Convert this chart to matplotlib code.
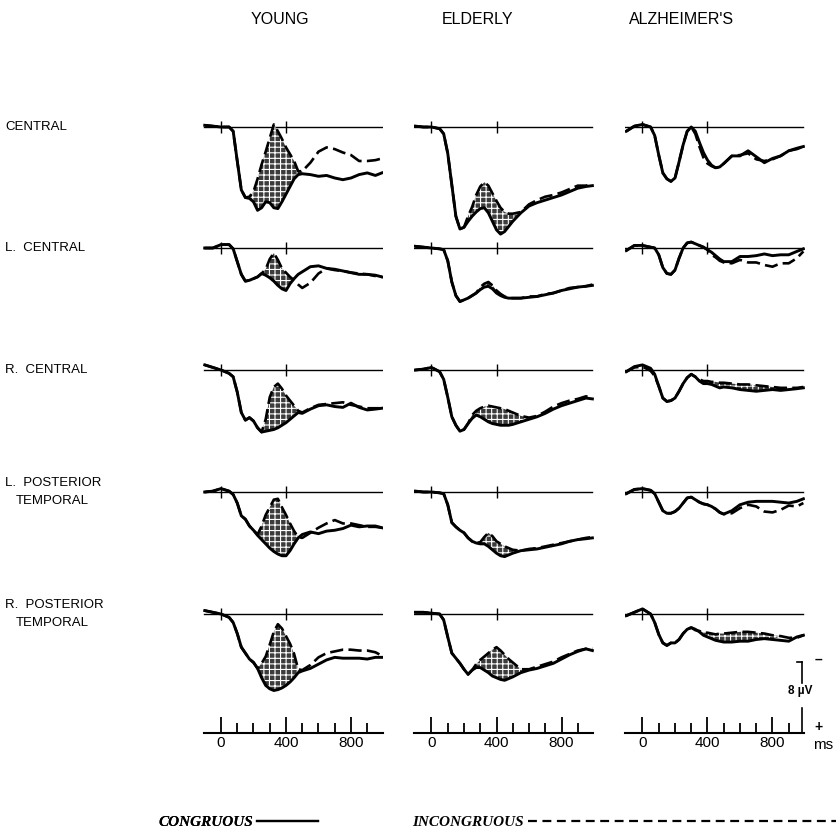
import numpy as np
import matplotlib
matplotlib.use("Agg")
import matplotlib.pyplot as plt
from matplotlib.lines import Line2D

plt.rcParams['hatch.linewidth'] = 0.8

W, H = 837, 834
SANS = ['Liberation Sans Narrow', 'Liberation Sans', 'DejaVu Sans']

# ---------------- data ----------------
TIME = [-100, -50, 0, 50, 75, 100, 125, 150, 175, 200, 225, 250, 275, 300, 325, 350,
        375, 400, 425, 450, 475, 500, 550, 600, 650, 700, 750, 800, 850, 900, 950, 990]

GROUPS = ["YOUNG", "ELDERLY", "ALZHEIMER'S"]
SITES = ["CENTRAL", "L.  CENTRAL", "R.  CENTRAL", "L.  POSTERIOR\nTEMPORAL", "R.  POSTERIOR\nTEMPORAL"]

# microvolts, positive values plotted downward
Y_C_CONG = [-0.2, -0.1, 0, 0, 0.5, 4.0, 7.4, 8.3, 8.4, 8.8, 9.8, 9.5, 8.8, 8.9, 9.5, 9.6,
            8.8, 7.9, 7.0, 6.1, 5.6, 5.5, 5.6, 5.8, 5.7, 6.0, 6.2, 6.0, 5.6, 5.4, 5.7, 5.4]
Y_C_INC = [-0.2, -0.1, 0, 0, 0.5, 4.0, 7.4, 8.3, 8.2, 7.6, 6.1, 4.4, 2.9, 1.3, -0.3, 0.5,
           1.4, 2.4, 3.2, 4.0, 5.2, 5.2, 4.2, 2.9, 2.4, 2.6, 3.0, 3.3, 4.0, 4.0, 3.9, 3.7]
Y_LC_CONG = [0, 0, -0.4, -0.4, 0.1, 1.6, 3.1, 3.9, 3.8, 3.6, 3.4, 3.0, 3.2, 3.5, 3.9, 4.4,
             4.8, 5.0, 4.2, 3.6, 3.1, 2.8, 2.2, 2.1, 2.4, 2.5, 2.7, 2.9, 3.1, 3.1, 3.2, 3.4]
Y_LC_INC = [0, 0, -0.4, -0.4, 0.1, 1.6, 3.1, 3.9, 3.8, 3.6, 3.4, 3.0, 2.5, 1.3, 0.6, 1.4,
            2.4, 2.9, 3.4, 3.8, 4.3, 4.7, 4.1, 3.0, 2.4, 2.6, 2.7, 2.9, 3.0, 3.1, 3.3, 3.4]
Y_RC_CONG = [-0.6, -0.3, 0, 0.4, 0.8, 2.6, 5.0, 5.9, 5.6, 6.0, 6.8, 7.3, 7.2, 7.1, 7.0, 6.8,
             6.5, 6.2, 5.8, 5.4, 5.0, 5.1, 4.6, 4.2, 4.1, 4.3, 4.4, 3.9, 4.4, 4.7, 4.6, 4.5]
Y_RC_INC = [-0.6, -0.3, 0, 0.4, 0.8, 2.6, 5.0, 5.9, 5.6, 6.0, 6.8, 7.3, 5.8, 3.2, 2.0, 1.6,
            2.2, 3.0, 3.6, 4.2, 4.8, 5.0, 4.5, 4.1, 4.0, 3.9, 3.8, 4.1, 4.3, 4.5, 4.5, 4.5]
Y_LP_CONG = [0, -0.1, -0.4, -0.1, 0.3, 1.3, 2.8, 3.2, 4.0, 4.5, 5.1, 5.6, 6.1, 6.6, 7.0, 7.3,
             7.5, 7.5, 6.9, 6.1, 5.4, 5.0, 4.7, 4.9, 4.6, 4.5, 4.3, 3.9, 4.1, 4.0, 4.0, 4.2]
Y_LP_INC = [0, -0.1, -0.4, -0.1, 0.3, 1.3, 2.8, 3.2, 4.0, 4.5, 5.0, 4.0, 2.7, 1.8, 0.9, 0.8,
            1.8, 2.7, 3.7, 4.6, 5.3, 5.4, 4.8, 4.2, 3.7, 3.3, 3.7, 3.7, 3.9, 4.1, 4.1, 4.2]
Y_RP_CONG = [-0.4, -0.2, 0, 0.4, 1.0, 2.3, 3.9, 4.6, 5.3, 5.7, 6.4, 7.5, 8.4, 8.8, 9.0, 8.9,
             8.7, 8.4, 8.0, 7.5, 6.9, 6.7, 6.4, 5.9, 5.4, 5.1, 5.2, 5.2, 5.2, 5.3, 5.1, 5.1]
Y_RP_INC = [-0.4, -0.2, 0, 0.4, 1.0, 2.3, 3.9, 4.6, 5.3, 5.7, 6.4, 5.8, 5.0, 3.6, 2.1, 1.2,
            1.7, 2.6, 3.5, 4.7, 6.5, 6.6, 6.0, 5.1, 4.6, 4.4, 4.2, 4.2, 4.3, 4.3, 4.5, 4.9]

E_C_CONG = [-0.1, 0, 0, 0.2, 0.8, 3.1, 6.8, 10.5, 12.0, 11.8, 11.1, 10.5, 10.0, 9.6, 9.5, 10.1,
            11.1, 12.1, 12.6, 12.3, 11.7, 11.1, 10.1, 9.3, 8.9, 8.6, 8.3, 8.0, 7.6, 7.2, 7.0, 6.9]
E_C_INC = [-0.1, 0, 0, 0.2, 0.8, 3.1, 6.8, 10.5, 12.0, 11.8, 10.5, 9.4, 8.0, 7.0, 6.5, 6.9,
           7.8, 8.7, 9.5, 10.0, 10.2, 10.2, 10.0, 9.1, 8.6, 8.2, 8.0, 7.7, 7.3, 6.9, 6.9, 6.7]
E_LC_CONG = [-0.2, -0.1, 0, 0.1, 0.2, 1.5, 4.0, 5.6, 6.3, 6.1, 5.9, 5.6, 5.3, 4.9, 4.6, 4.5,
             4.8, 5.3, 5.6, 5.8, 5.9, 5.9, 5.9, 5.8, 5.7, 5.5, 5.3, 5.0, 4.8, 4.6, 4.5, 4.4]
E_LC_INC = [-0.2, -0.1, 0, 0.1, 0.2, 1.5, 4.0, 5.6, 6.3, 6.1, 5.9, 5.6, 5.3, 4.6, 4.2, 4.0,
            4.4, 5.0, 5.4, 5.7, 5.9, 5.9, 5.9, 5.7, 5.7, 5.4, 5.3, 5.0, 4.7, 4.6, 4.5, 4.3]
E_RC_CONG = [0, -0.1, -0.3, 0.2, 1.1, 3.2, 5.5, 6.5, 7.2, 7.0, 6.3, 5.7, 5.3, 5.5, 5.8, 6.1,
             6.3, 6.4, 6.5, 6.5, 6.5, 6.4, 6.1, 5.8, 5.5, 5.1, 4.6, 4.2, 3.9, 3.6, 3.3, 3.4]
E_RC_INC = [0, -0.1, -0.3, 0.2, 1.1, 3.2, 5.5, 6.5, 7.2, 7.0, 6.3, 5.3, 4.8, 4.5, 4.3, 4.2,
            4.3, 4.4, 4.5, 4.6, 4.8, 5.0, 5.4, 5.6, 5.4, 4.9, 4.3, 3.9, 3.6, 3.4, 3.1, 3.2]
E_LP_CONG = [-0.1, 0, 0, 0.1, 0.2, 1.5, 3.6, 4.1, 4.5, 4.8, 5.4, 5.8, 6.0, 6.1, 6.1, 6.4,
             6.8, 7.2, 7.5, 7.6, 7.4, 7.2, 6.9, 6.8, 6.7, 6.5, 6.3, 6.1, 5.8, 5.6, 5.5, 5.4]
E_LP_INC = [-0.1, 0, 0, 0.1, 0.2, 1.5, 3.6, 4.1, 4.5, 4.8, 5.4, 5.8, 6.0, 5.9, 5.3, 4.8,
            5.2, 5.8, 6.1, 6.4, 6.6, 6.8, 6.9, 6.7, 6.6, 6.4, 6.2, 6.0, 5.8, 5.6, 5.4, 5.3]
E_RP_CONG = [-0.2, -0.2, -0.1, 0, 0.7, 2.7, 4.6, 5.2, 5.8, 6.5, 7.1, 6.6, 6.3, 6.3, 6.6, 6.9,
             7.3, 7.5, 7.7, 7.8, 7.6, 7.4, 6.9, 6.6, 6.4, 6.1, 5.8, 5.3, 4.8, 4.4, 4.1, 4.3]
E_RP_INC = [-0.2, -0.2, -0.1, 0, 0.7, 2.7, 4.6, 5.2, 5.8, 6.5, 7.1, 6.6, 5.9, 5.4, 5.0, 4.6,
            4.2, 3.9, 4.3, 4.8, 5.3, 5.7, 6.5, 6.5, 6.2, 5.9, 5.6, 5.1, 4.7, 4.3, 4.1, 4.1]

A_C_CONG = [0.5, -0.1, -0.3, 0, 1.0, 3.3, 5.4, 6.1, 6.4, 6.0, 4.1, 2.1, 0.5, 0, 0.5, 1.8,
            3.0, 3.9, 4.5, 4.8, 4.7, 4.3, 3.4, 3.4, 2.8, 3.5, 4.2, 3.7, 3.4, 2.8, 2.5, 2.3]
A_C_INC = [0.5, -0.1, -0.3, 0, 1.0, 3.3, 5.4, 6.1, 6.4, 6.0, 4.1, 2.1, 0.5, 0, 0.8, 2.3,
           3.6, 4.3, 4.6, 4.8, 4.7, 4.3, 3.4, 3.3, 3.1, 3.8, 4.0, 3.8, 3.4, 2.8, 2.6, 2.3]
A_LC_CONG = [0.3, -0.3, -0.3, -0.1, 0, 0.8, 2.3, 3.0, 3.1, 2.6, 1.2, 0, -0.6, -0.7, -0.5, -0.3,
             -0.1, 0.2, 0.5, 0.9, 1.3, 1.6, 1.6, 1.0, 1.0, 0.9, 0.7, 0.9, 0.8, 0.8, 0.4, 0.1]
A_LC_INC = [0.3, -0.3, -0.3, -0.1, 0, 0.8, 2.3, 3.0, 3.1, 2.6, 1.2, 0, -0.6, -0.7, -0.5, -0.3,
            -0.1, 0.2, 0.8, 1.1, 1.5, 1.7, 1.8, 1.4, 1.7, 1.7, 2.0, 2.2, 1.8, 1.8, 1.2, 0.4]
A_RC_CONG = [0.2, -0.4, -0.6, -0.2, 0.5, 1.9, 3.3, 3.7, 3.6, 3.3, 2.5, 1.6, 0.9, 0.5, 0.8, 1.3,
             1.6, 1.6, 1.7, 1.9, 2.1, 2.0, 2.1, 2.3, 2.4, 2.5, 2.4, 2.3, 2.4, 2.3, 2.2, 2.1]
A_RC_INC = [0.2, -0.3, -0.4, 0.1, 0.7, 1.9, 3.3, 3.7, 3.6, 3.3, 2.5, 1.6, 0.9, 0.5, 0.8, 1.1,
            1.3, 1.3, 1.4, 1.4, 1.5, 1.5, 1.6, 1.7, 1.7, 1.8, 1.9, 2.0, 2.1, 2.1, 2.1, 2.0]
A_LP_CONG = [0.2, -0.3, -0.4, -0.2, 0.2, 1.2, 2.2, 2.5, 2.5, 2.3, 1.9, 1.3, 0.7, 0.6, 0.9, 1.2,
             1.4, 1.5, 1.7, 2.0, 2.4, 2.6, 2.2, 1.5, 1.2, 1.1, 1.1, 1.1, 1.2, 1.3, 1.1, 0.8]
A_LP_INC = [0.2, -0.3, -0.4, -0.2, 0.2, 1.2, 2.2, 2.5, 2.5, 2.3, 1.9, 1.3, 0.7, 0.6, 0.9, 1.2,
            1.4, 1.5, 1.7, 2.0, 2.4, 2.6, 2.5, 1.9, 1.5, 1.7, 2.3, 2.4, 2.1, 1.6, 1.7, 1.3]
A_RP_CONG = [0.2, -0.2, -0.6, 0, 1.0, 2.4, 3.4, 3.7, 3.4, 3.4, 3.0, 2.3, 1.8, 1.6, 1.8, 2.1,
             2.5, 2.7, 2.9, 3.1, 3.2, 3.3, 3.3, 3.2, 3.2, 3.0, 2.9, 3.0, 3.1, 3.2, 2.7, 2.5]
A_RP_INC = [0.2, -0.2, -0.6, 0, 1.0, 2.4, 3.4, 3.7, 3.4, 3.4, 3.0, 2.3, 1.8, 1.6, 1.9, 2.0,
            2.2, 2.2, 2.3, 2.4, 2.3, 2.3, 2.2, 2.1, 2.1, 2.2, 2.3, 2.5, 2.6, 2.8, 2.8, 2.5]

CONG = [[Y_C_CONG, Y_LC_CONG, Y_RC_CONG, Y_LP_CONG, Y_RP_CONG],
        [E_C_CONG, E_LC_CONG, E_RC_CONG, E_LP_CONG, E_RP_CONG],
        [A_C_CONG, A_LC_CONG, A_RC_CONG, A_LP_CONG, A_RP_CONG]]
INC = [[Y_C_INC, Y_LC_INC, Y_RC_INC, Y_LP_INC, Y_RP_INC],
       [E_C_INC, E_LC_INC, E_RC_INC, E_LP_INC, E_RP_INC],
       [A_C_INC, A_LC_INC, A_RC_INC, A_LP_INC, A_RP_INC]]

# time windows (ms) where the N400 difference is shaded
SHADE = [[(175, 500), (250, 450), (250, 500), (225, 475), (225, 475)],
         [(200, 550), (275, 450), (250, 600), (300, 550), (250, 550)],
         [None, None, (300, 850), None, (300, 800)]]

TICKS_MAJOR = [0, 400, 800]
TICKS_MINOR = [100, 200, 300, 500, 600, 700, 900]
CAL_UV = 8

# ---------------- layout ----------------
fig = plt.figure(figsize=(W / 100, H / 100), dpi=100)
fig.patch.set_facecolor('white')

PX_PER_MS = 0.1625
PX_PER_UV = 8.5
XLIM = (-110, 1000)
YLIM = (13, -3)
col_onset = [221, 431.5, 642.5]
row_base = [127, 248, 370, 492, 614]
col_title_x = [280, 478, 682]


def add_px_axes(left, top, width, height):
    return fig.add_axes([left / W, 1 - (top + height) / H, width / W, height / H])


t = np.array(TIME, dtype=float)
panel_w = (XLIM[1] - XLIM[0]) * PX_PER_MS
panel_h = (YLIM[0] - YLIM[1]) * PX_PER_UV

for c in range(3):
    left = col_onset[c] + XLIM[0] * PX_PER_MS
    for r in range(5):
        top = row_base[r] + YLIM[1] * PX_PER_UV
        ax = add_px_axes(left, top, panel_w, panel_h)
        ax.set_xlim(*XLIM)
        ax.set_ylim(*YLIM)
        ax.axis('off')
        cong = np.array(CONG[c][r], dtype=float)
        inc = np.array(INC[c][r], dtype=float)
        ax.plot([-105, 990], [0, 0], color='black', lw=1.0, zorder=1)
        ax.vlines([0, 400], -0.75, 0.75, color='black', lw=1.0, zorder=1)
        win = SHADE[c][r]
        if win is not None:
            mask = (t >= win[0]) & (t <= win[1]) & (inc <= cong)
            ax.fill_between(t, inc, cong, where=mask, interpolate=True,
                            facecolor='#3c3c3c', edgecolor='white', hatch='+++',
                            linewidth=0, zorder=2)
        ax.plot(t, inc, color='black', lw=1.9, dashes=(5, 2), zorder=3,
                solid_joinstyle='round', dash_capstyle='butt')
        ax.plot(t, cong, color='black', lw=2.1, zorder=4, solid_joinstyle='round')

        if c == 2 and r == 4:
            # calibration bar (8 uV) at right of the last panel
            xb = 981
            ax.plot([951, xb], [5.6, 5.6], color='black', lw=1.2, clip_on=False)
            ax.plot([xb, xb], [5.6, 5.6 + 2.5], color='black', lw=1.2, clip_on=False)
            ax.plot([xb, xb], [5.6 + CAL_UV - 2.6, 5.6 + CAL_UV + 0.3], color='black',
                    lw=1.2, clip_on=False)
            ax.text(968, 5.6 + CAL_UV / 2 - 0.5, "8 \u00b5V", ha='center', va='center',
                    fontsize=8.5, fontweight='bold', family=SANS, clip_on=False)
            ax.text(1085, 5.4, "\u2013", ha='center', va='center', fontsize=10,
                    fontweight='bold', family=SANS, clip_on=False)
            ax.text(1082, 5.6 + CAL_UV - 0.3, "+", ha='center', va='center', fontsize=10,
                    fontweight='bold', family=SANS, clip_on=False)

    # time scale axis under each column
    tax = add_px_axes(left, 700, panel_w, 33)
    tax.set_xlim(*XLIM)
    tax.set_ylim(0, 1)
    tax.patch.set_visible(False)
    for s in ['top', 'left', 'right']:
        tax.spines[s].set_visible(False)
    tax.spines['bottom'].set_bounds(-105, 995)
    tax.spines['bottom'].set_linewidth(1.5)
    tax.set_yticks([])
    tax.set_xticks(TICKS_MAJOR)
    tax.set_xticklabels([str(v) for v in TICKS_MAJOR])
    tax.set_xticks(TICKS_MINOR, minor=True)
    tax.tick_params(axis='x', which='major', direction='in', length=11.5, width=1.3,
                    labelsize=11, pad=2)
    tax.tick_params(axis='x', which='minor', direction='in', length=7.2, width=1.3)
    for lab in tax.get_xticklabels():
        lab.set_family(SANS)
    if c == 2:
        tax.text(1110, -0.35, "ms", ha='center', va='center', fontsize=11,
                 family=SANS, clip_on=False)

    fig.text(col_title_x[c] / W, 1 - 20 / H, GROUPS[c], ha='center', va='center',
             fontsize=11.5, family=SANS)

for r in range(5):
    lines = SITES[r].split('\n')
    if len(lines) == 1:
        fig.text(5 / W, 1 - row_base[r] / H, lines[0], ha='left', va='center',
                 fontsize=9.5, family=SANS)
    else:
        fig.text(5 / W, 1 - (row_base[r] - 9) / H, lines[0], ha='left', va='center',
                 fontsize=9.5, family=SANS)
        fig.text(16 / W, 1 - (row_base[r] + 9) / H, lines[1], ha='left', va='center',
                 fontsize=9.5, family=SANS)

# legend: label first, then line sample
LEG_FONT = dict(family=['Liberation Serif', 'DejaVu Serif'], weight='bold', style='italic', size=11)
h1 = Line2D([], [], color='black', lw=1.6)
h2 = Line2D([], [], color='black', lw=1.6, dashes=(4, 2.5))
leg1 = fig.legend([h1], ['CONGRUOUS'], loc='center left', bbox_to_anchor=(158 / W, 1 - 822 / H),
                  frameon=False, markerfirst=False, handlelength=4.0, handletextpad=0.3,
                  borderpad=0, borderaxespad=0, prop=LEG_FONT)
leg2 = fig.legend([h2], ['INCONGRUOUS'], loc='center left', bbox_to_anchor=(412 / W, 1 - 822 / H),
                  frameon=False, markerfirst=False, handlelength=21, handletextpad=0.3,
                  borderpad=0, borderaxespad=0, prop=LEG_FONT)
fig.add_artist(leg1)

fig.savefig('out.png', dpi=100, facecolor='white')
